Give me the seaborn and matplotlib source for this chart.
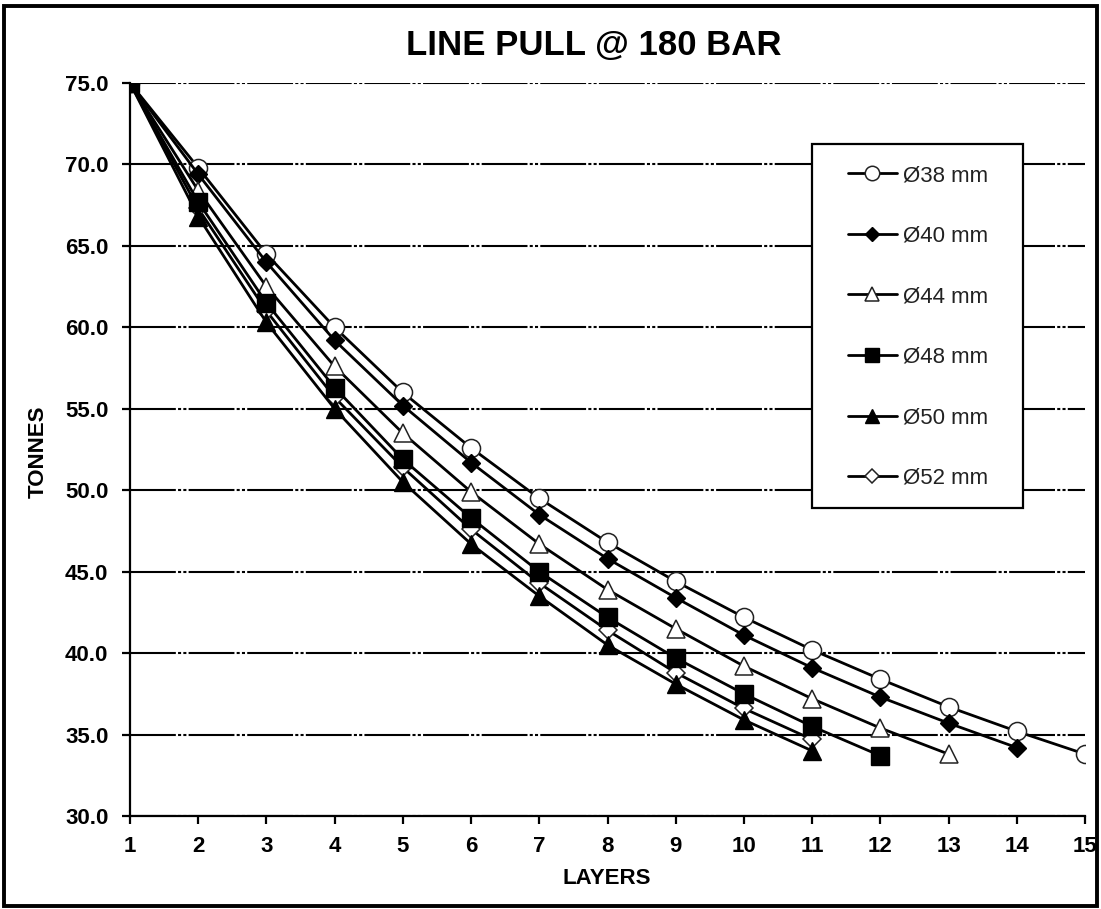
import matplotlib
matplotlib.use("Agg")
import matplotlib.pyplot as plt
import seaborn as sns
import pandas as pd
from matplotlib.patches import Rectangle

# ---- data ----
layers = list(range(1, 16))
labels = ["Ø38 mm", "Ø40 mm", "Ø44 mm", "Ø48 mm", "Ø50 mm", "Ø52 mm"]
d38 = [75.0, 69.8, 64.5, 60.0, 56.0, 52.6, 49.5, 46.8, 44.4, 42.2, 40.2, 38.4, 36.7, 35.2, 33.8]
d40 = [75.0, 69.4, 64.0, 59.2, 55.2, 51.7, 48.5, 45.8, 43.4, 41.1, 39.1, 37.3, 35.7, 34.2]
d44 = [75.0, 68.4, 62.5, 57.6, 53.5, 49.9, 46.7, 43.9, 41.5, 39.2, 37.2, 35.4, 33.8]
d48 = [75.0, 67.7, 61.5, 56.3, 51.9, 48.3, 45.0, 42.2, 39.7, 37.5, 35.5, 33.7]
d50 = [75.0, 66.8, 60.3, 55.0, 50.5, 46.7, 43.5, 40.5, 38.1, 35.9, 34.0]
d52 = [75.0, 67.3, 61.0, 55.7, 51.4, 47.6, 44.3, 41.4, 38.8, 36.6, 34.7]
series = [d38, d40, d44, d48, d50, d52]
y_ticks = [30.0, 35.0, 40.0, 45.0, 50.0, 55.0, 60.0, 65.0, 70.0, 75.0]

sns.set_theme(style="white")
plt.rcParams["font.family"] = ["Liberation Sans", "DejaVu Sans"]
plt.rcParams["lines.scale_dashes"] = False

fig = plt.figure(figsize=(11.01, 9.09), dpi=100)
ax = fig.add_axes([130 / 1101, 93 / 909, (1085 - 130) / 1101, (816 - 83) / 909])

styles = [
    dict(marker="o", markersize=13, markerfacecolor="white", markeredgecolor="#222222", markeredgewidth=1.1, z=3),
    dict(marker="D", markersize=9.5, markerfacecolor="black", markeredgecolor="black", markeredgewidth=1.0, z=4),
    dict(marker="^", markersize=13, markerfacecolor="white", markeredgecolor="#222222", markeredgewidth=1.1, z=5),
    dict(marker="s", markersize=13, markerfacecolor="black", markeredgecolor="black", markeredgewidth=1.0, z=6),
    dict(marker="^", markersize=13, markerfacecolor="black", markeredgecolor="black", markeredgewidth=1.0, z=7),
    dict(marker="D", markersize=9, markerfacecolor="white", markeredgecolor="#222222", markeredgewidth=1.1, z=2.5),
]

handles = []
for lab, vals, st in zip(labels, series, styles):
    df = pd.DataFrame({"LAYERS": layers[:len(vals)], "TONNES": vals})
    st = dict(st)
    z = st.pop("z")
    sns.lineplot(data=df, x="LAYERS", y="TONNES", ax=ax, color="black", linewidth=2.0,
                 zorder=z, legend=False, **st)
    handles.append(ax.lines[-1])

ax.set_xlim(1, 15)
ax.set_ylim(30, 75)
ax.set_xticks(layers)
ax.set_xticklabels([str(v) for v in layers])
ax.set_yticks(y_ticks)
ax.set_yticklabels([f"{v:.1f}" for v in y_ticks])
ax.set_xlabel("")
ax.set_ylabel("")

for s in ["top", "right"]:
    ax.spines[s].set_visible(False)
for s in ["left", "bottom"]:
    ax.spines[s].set_color("black")
    ax.spines[s].set_linewidth(1.6)
    ax.spines[s].set_zorder(8)

ax.tick_params(axis="both", direction="out", length=5.5, width=1.6, color="black",
               labelsize=16, labelcolor="black", bottom=True, left=True)
ax.tick_params(axis="x", pad=9)
ax.tick_params(axis="y", pad=10)
for t in ax.get_xticklabels() + ax.get_yticklabels():
    t.set_fontweight("bold")

ax.grid(axis="y", color="black", linewidth=1.5,
        linestyle=(0, (33, 1.6, 2.2, 1.6, 2.2, 1.6)))
ax.grid(axis="x", visible=False)
ax.set_axisbelow(True)

# legend box drawn separately so its padding matches the reference
W, H = 1085 - 130, 816 - 83
box = Rectangle(((812 - 130) / W, 1 - (508 - 83) / H), (1023 - 812) / W, (508 - 144) / H,
                transform=ax.transAxes, facecolor="white", edgecolor="black",
                linewidth=1.6, zorder=9, clip_on=False)
ax.add_patch(box)

leg = ax.legend(handles, labels, loc="center left",
                bbox_to_anchor=((848 - 130) / W, 1 - (327 - 83) / H),
                frameon=False, fontsize=16,
                handlelength=2.2, handletextpad=0.28, labelspacing=1.78,
                borderpad=0, borderaxespad=0, markerscale=0.8)
leg.set_zorder(10)
for t in leg.get_texts():
    t.set_color("#222222")

fig.text(594 / 1101, 1 - 46 / 909, "LINE PULL @ 180 BAR", ha="center", va="center",
         fontsize=25, fontweight="bold", color="black")
fig.text(38 / 1101, 1 - 452 / 909, "TONNES", ha="center", va="center", rotation=90,
         fontsize=16, fontweight="bold", color="black")
fig.text(607 / 1101, 1 - 878 / 909, "LAYERS", ha="center", va="center",
         fontsize=16, fontweight="bold", color="black")

fig.patches.append(Rectangle((4 / 1101, 3 / 909), 1093 / 1101, 900 / 909, transform=fig.transFigure,
                             fill=False, edgecolor="black", linewidth=2.8))

fig.savefig("out.png", dpi=100)
